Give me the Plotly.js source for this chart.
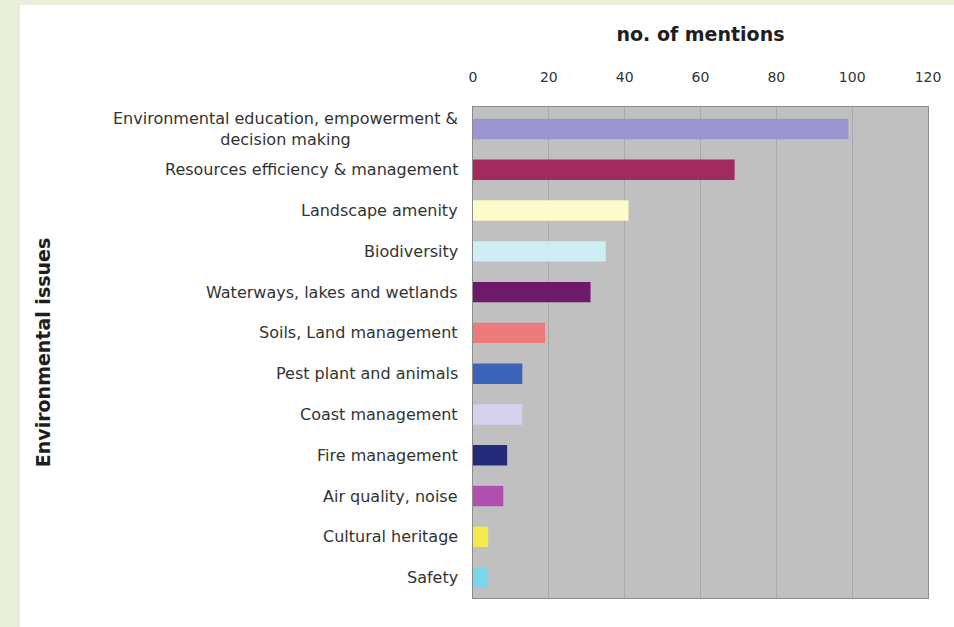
<!DOCTYPE html>
<html>
<head>
<meta charset="utf-8">
<script src="https://cdn.plot.ly/plotly-3.0.1.min.js"></script>
<style>
  html, body { margin: 0; padding: 0; width: 954px; height: 627px; overflow: hidden;
    background: #e8eed9; }
  #chart { position: absolute; left: 20px; top: 5px; width: 934px; height: 622px; background: #ffffff; }
</style>
</head>
<body>
<div id="chart"></div>
<script>
// Data
var categories = [
  "Environmental education, empowerment &<br>decision making",
  "Resources efficiency & management",
  "Landscape amenity",
  "Biodiversity",
  "Waterways, lakes and wetlands",
  "Soils, Land management",
  "Pest plant and animals",
  "Coast management",
  "Fire management",
  "Air quality, noise",
  "Cultural heritage",
  "Safety"
];
var mentions = [99, 69, 41, 35, 31, 19, 13, 13, 9, 8, 4, 4];
var barColors = ["#9b96d0", "#a12a5e", "#fdfbc9", "#cdeef2", "#6e1a6a", "#ee7b7b",
                 "#3b63b8", "#d6d2ee", "#262a7a", "#b04fb0", "#f4ea4e", "#7ad6e8"];
var xTicks = [0, 20, 40, 60, 80, 100, 120];

var labelFont = {family: "DejaVu Sans, sans-serif", size: 16, color: "#333333"};

var annotations = categories.map(function (c) {
  return {
    xref: "paper", yref: "y", x: 0, y: c, xanchor: "right", yanchor: "middle",
    xshift: -13, text: c, showarrow: false, align: "center", font: labelFont
  };
});

var trace = {
  type: "bar",
  orientation: "h",
  x: mentions,
  y: categories,
  width: 0.5,
  marker: {color: barColors, line: {width: 0}},
  hoverinfo: "x+y"
};

var layout = {
  width: 934, height: 622,
  margin: {l: 453, r: 26, t: 102, b: 29, pad: 0},
  paper_bgcolor: "#ffffff",
  plot_bgcolor: "#c0c0c0",
  showlegend: false,
  bargap: 0.5,
  xaxis: {
    side: "top",
    range: [0, 120],
    tickvals: xTicks,
    ticktext: xTicks.map(String),
    showgrid: true, gridcolor: "#a9a9a9", gridwidth: 1,
    zeroline: false,
    showline: true, linecolor: "#8c8c8c", linewidth: 1, mirror: true,
    ticks: "",
    ticklabelstandoff: 18,
    tickfont: {family: "DejaVu Sans, sans-serif", size: 14, color: "#333333"},
    title: {text: "no. of mentions", standoff: 22,
            font: {family: "DejaVu Sans, sans-serif", size: 19, color: "#1e1e1e", weight: "bold"}}
  },
  yaxis: {
    type: "category",
    categoryorder: "array",
    categoryarray: categories,
    autorange: "reversed",
    showticklabels: false,
    showgrid: false,
    zeroline: false,
    showline: true, linecolor: "#8c8c8c", linewidth: 1, mirror: true,
    ticks: "",
    title: {text: "Environmental issues", standoff: 416,
            font: {family: "DejaVu Sans, sans-serif", size: 19, color: "#1e1e1e", weight: "bold"}}
  },
  annotations: annotations
};

Plotly.newPlot("chart", [trace], layout, {displayModeBar: false, staticPlot: true});
</script>
</body>
</html>
